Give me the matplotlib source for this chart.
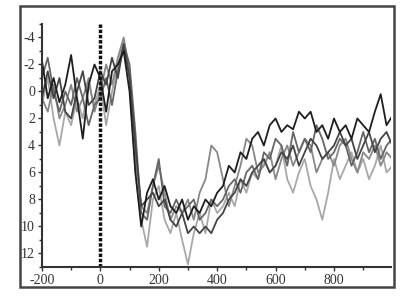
import numpy as np
import matplotlib
matplotlib.use("Agg")
import matplotlib.pyplot as plt
from matplotlib.patches import Rectangle
from matplotlib.ticker import MultipleLocator

# time axis (ms), one sample every 20 ms
times = list(range(-200, 1001, 20))

wave_black = [-2.3, 0.5, -1.0, 0.8, -0.5, -2.7, 0.5, 3.5, -0.5, -2.0, -1.0, 1.5, -1.5, -2.0, -3.0, 0.0,
              6.0, 10.0, 7.5, 6.5, 8.0, 7.0, 8.5, 9.0, 8.0, 9.5, 8.5, 9.0, 8.0, 8.5, 7.5, 7.0,
              5.5, 6.0, 4.5, 5.0, 3.5, 3.0, 4.0, 2.5, 2.0, 3.0, 2.5, 2.8, 1.5, 2.0, 1.5, 3.0,
              2.5, 3.5, 2.0, 3.0, 2.5, 3.5, 2.0, 2.5, 3.0, 1.5, 0.2, 2.5, 1.8]
wave_dark = [0.5, -1.5, 0.5, -1.0, 1.5, 2.0, 0.0, -1.5, 1.0, 0.5, -1.5, -0.5, -2.5, -1.0, -3.5, -1.0,
             4.0, 8.5, 8.0, 7.5, 8.5, 8.0, 9.5, 10.0, 9.0, 10.5, 10.0, 10.5, 10.0, 10.5, 9.5, 9.0,
             8.0, 7.5, 6.5, 7.0, 6.0, 5.5, 5.0, 6.0, 5.5, 4.5, 5.0, 4.0, 5.5, 4.5, 3.5, 4.0,
             5.0, 4.5, 4.0, 3.0, 4.0, 3.5, 5.0, 4.0, 3.0, 4.5, 3.5, 3.0, 4.0]
wave_mid = [-1.0, -2.5, 0.0, 1.5, 0.0, 1.0, -1.0, 0.5, 2.5, 1.0, 0.5, -1.0, 1.0, -1.5, -3.5, -2.0,
            3.0, 9.0, 9.5, 7.0, 5.0, 8.5, 9.0, 8.0, 9.0, 8.5, 8.0, 9.5, 9.0, 8.0, 8.5, 8.0,
            7.0, 6.5, 7.5, 6.0, 5.5, 6.5, 4.5, 5.0, 3.5, 4.0, 5.5, 3.0, 4.5, 3.5, 4.5, 2.5,
            3.5, 5.0, 4.5, 3.5, 4.0, 5.5, 4.5, 3.0, 4.5, 3.5, 5.0, 4.0, 3.5]
wave_gray = [0.5, 1.5, -0.5, 2.0, 1.0, -0.5, 1.5, 0.5, -1.0, 1.5, 0.0, -2.0, -0.5, -2.5, -4.0, -1.5,
             5.0, 8.5, 9.0, 7.0, 5.5, 7.5, 9.5, 8.5, 9.0, 8.0, 9.5, 7.5, 6.5, 4.0, 4.5, 6.5,
             8.5, 7.0, 5.5, 3.5, 4.0, 6.0, 5.5, 4.5, 6.5, 5.0, 4.0, 5.5, 4.5, 3.5, 4.0, 6.0,
             5.0, 4.5, 5.5, 4.0, 3.5, 5.0, 6.0, 4.5, 5.0, 4.0, 5.5, 4.5, 5.0]
wave_light = [1.0, -1.0, 2.0, 4.0, 1.5, 2.5, 0.5, 2.0, -0.5, 1.0, -0.5, 2.5, 0.0, -2.0, -3.8, -1.0,
              6.0, 9.5, 11.5, 8.0, 7.0, 9.5, 10.5, 9.0, 11.0, 12.8, 10.5, 9.0, 10.5, 8.0, 9.0, 8.5,
              7.5, 8.5, 6.5, 7.5, 6.0, 6.5, 5.0, 6.0, 5.5, 4.0, 6.5, 7.5, 6.0, 5.0, 7.0, 8.0,
              9.5, 7.5, 5.0, 6.5, 5.5, 4.5, 6.0, 5.0, 6.5, 5.5, 4.0, 6.0, 5.5]

x_ticks = [-200, 0, 200, 400, 600, 800]
y_ticks = [-4, -2, 0, 2, 4, 6, 8, 10, 12]

plt.rcParams.update({
    'font.family': 'Liberation Serif',
    'font.size': 10,
    'axes.unicode_minus': False,
})

fig = plt.figure(figsize=(4.15, 2.96), dpi=100)
# outer frame round the whole figure
fig.patches.append(Rectangle((0.048, 0.030), 0.901, 0.950, transform=fig.transFigure,
                             fill=False, edgecolor='#444444', linewidth=1.8))
ax = fig.add_axes([0.101, 0.098, 0.841, 0.821])

series = [(wave_light, '#a8a8a8'), (wave_gray, '#888888'), (wave_mid, '#666666'),
          (wave_dark, '#444444'), (wave_black, '#1e1e1e')]
for ys, c in series:
    ax.plot(times, ys, color=c, linewidth=1.3)

ax.axvline(0, color='#111111', linewidth=2.5, linestyle=(0, (1.0, 0.5)))

ax.set_xlim(-200, 995)
ax.set_ylim(13, -5)
ax.set_xticks(x_ticks)
ax.xaxis.set_minor_locator(MultipleLocator(100))
ax.set_yticks(y_ticks)
ax.yaxis.set_minor_locator(MultipleLocator(1))
ax.tick_params(which='both', direction='out', color='#333333', labelcolor='#333333', width=1)
ax.tick_params(which='major', length=3, pad=2)
ax.tick_params(which='minor', length=2)
for s in ['top', 'right']:
    ax.spines[s].set_visible(False)
for s in ['left', 'bottom']:
    ax.spines[s].set_color('#333333')
    ax.spines[s].set_linewidth(1.5)

fig.savefig('out.png', dpi=100)
